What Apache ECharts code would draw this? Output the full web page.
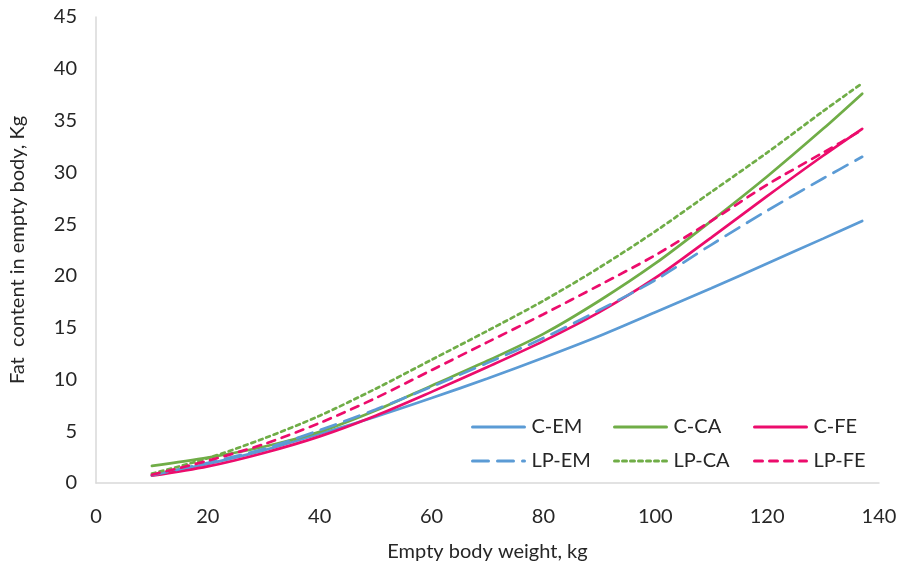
<!DOCTYPE html>
<html>
<head>
<meta charset="utf-8">
<script src="https://cdn.jsdelivr.net/npm/echarts@6/dist/echarts.min.js"></script>
<style>
  html, body { margin: 0; padding: 0; background: #fff; }
  #chart { width: 910px; height: 567px; }
</style>
</head>
<body>
<div id="chart"></div>
<script>
// x values (empty body weight, kg)
const weights = [10, 20, 30, 40, 50, 60, 70, 80, 90, 100, 110, 120, 130, 137]

// fat content, kg
const cEM  = [0.75, 1.85, 3.15, 4.75, 6.4, 8.2, 10.1, 12.1, 14.2, 16.5, 18.8, 21.2, 23.6, 25.3]
const cCA  = [1.65, 2.45, 3.5, 4.95, 7.0, 9.4, 11.8, 14.4, 17.6, 21.2, 25.3, 29.6, 34.2, 37.6]
const cFE  = [0.7, 1.6, 2.9, 4.5, 6.5, 8.8, 11.2, 13.7, 16.5, 19.8, 23.7, 27.7, 31.6, 34.2]
const lpEM = [0.75, 1.95, 3.3, 5.1, 7.1, 9.3, 11.6, 14.0, 16.7, 19.6, 23.0, 26.3, 29.4, 31.5]
const lpCA = [0.9, 2.4, 4.3, 6.5, 9.1, 11.9, 14.7, 17.6, 20.8, 24.3, 28.1, 31.9, 35.9, 38.6]
const lpFE = [0.8, 2.15, 3.75, 5.8, 8.2, 10.9, 13.6, 16.3, 19.1, 22.0, 25.3, 28.8, 31.9, 34.1]

const BLUE = '#5B9BD5'
const GREEN = '#70AD47'
const PINK = '#EC0C6C'
const FONT = 'Lato, "Open Sans", sans-serif'
const TEXT = '#262626'

const pairs = ys => weights.map((x, i) => [x, ys[i]])

const line = (name, ys, color, type) => ({
  name,
  type: 'line',
  data: pairs(ys),
  smooth: 0.3,
  symbol: 'none',
  lineStyle: { color, width: 2.7, type, cap: 'round' },
  itemStyle: { color }
})

// one legend per entry so the columns line up like the original
const legendAt = (name, left, top) => ({
  left, top,
  data: [name],
  itemWidth: 52,
  itemHeight: 14,
  itemStyle: { opacity: 0 },
  lineStyle: { width: 3 },
  textStyle: { fontFamily: FONT, fontSize: 20, color: TEXT, padding: [0, 0, 0, 2] }
})

const chart = echarts.init(document.getElementById('chart'))
chart.setOption({
  animation: false,
  grid: { left: 96, right: 31, top: 17, bottom: 84, outerBoundsMode: 'none', containLabel: false },
  legend: [
    legendAt('C-EM', 466, 412),
    legendAt('C-CA', 608, 412),
    legendAt('C-FE', 748, 412),
    legendAt('LP-EM', 466, 446),
    legendAt('LP-CA', 608, 446),
    legendAt('LP-FE', 748, 446)
  ],
  xAxis: {
    type: 'value',
    min: 0, max: 140, interval: 20,
    name: 'Empty body weight, kg',
    nameLocation: 'middle',
    nameGap: 59,
    nameTextStyle: { fontFamily: FONT, fontSize: 20, color: TEXT },
    axisLine: { show: true, lineStyle: { color: '#d9d9d9', width: 1.5 } },
    axisTick: { show: false },
    splitLine: { show: false },
    axisLabel: { margin: 24, fontFamily: FONT, fontSize: 20, color: TEXT }
  },
  yAxis: {
    type: 'value',
    min: 0, max: 45, interval: 5,
    name: 'Fat  content in empty body, Kg',
    nameLocation: 'middle',
    nameGap: 68,
    nameTextStyle: { fontFamily: FONT, fontSize: 20, color: TEXT },
    axisLine: { show: true, lineStyle: { color: '#d9d9d9', width: 1.5 } },
    axisTick: { show: false },
    splitLine: { show: false },
    axisLabel: { margin: 19, fontFamily: FONT, fontSize: 20, color: TEXT }
  },
  series: [
    line('C-EM', cEM, BLUE, 'solid'),
    line('C-CA', cCA, GREEN, 'solid'),
    line('C-FE', cFE, PINK, 'solid'),
    line('LP-EM', lpEM, BLUE, [16, 9]),
    line('LP-CA', lpCA, GREEN, [4, 4]),
    line('LP-FE', lpFE, PINK, [8, 7])
  ]
})
</script>
</body>
</html>
